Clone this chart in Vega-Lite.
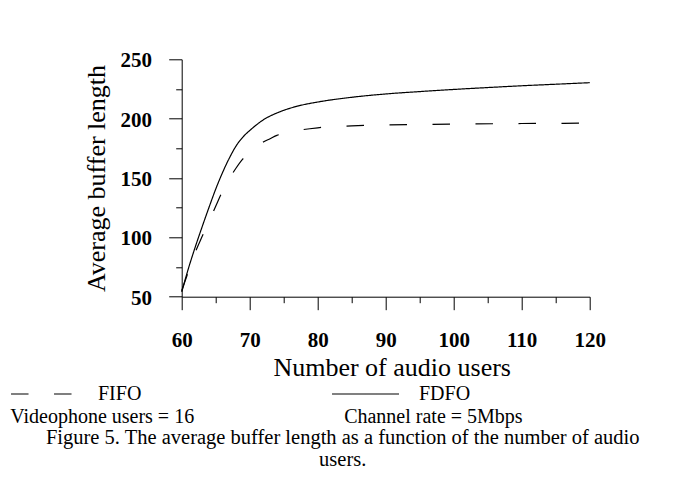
{
  "$schema": "https://vega.github.io/schema/vega-lite/v6.json",
  "width": 408,
  "height": 237.4,
  "autosize": {"type": "none"},
  "padding": {"left": 181.7, "top": 59.3, "right": 90.3, "bottom": 186.3},
  "background": "white",
  "data": {
    "values": [
      {"users": 60, "length": 54, "policy": "FDFO"},
      {"users": 61, "length": 74, "policy": "FDFO"},
      {"users": 62, "length": 92, "policy": "FDFO"},
      {"users": 63, "length": 108.8, "policy": "FDFO"},
      {"users": 64, "length": 125, "policy": "FDFO"},
      {"users": 65, "length": 140.6, "policy": "FDFO"},
      {"users": 66, "length": 154.5, "policy": "FDFO"},
      {"users": 67, "length": 166.7, "policy": "FDFO"},
      {"users": 68, "length": 177, "policy": "FDFO"},
      {"users": 69, "length": 184.5, "policy": "FDFO"},
      {"users": 70, "length": 190, "policy": "FDFO"},
      {"users": 71, "length": 194.8, "policy": "FDFO"},
      {"users": 72, "length": 199, "policy": "FDFO"},
      {"users": 73, "length": 202.2, "policy": "FDFO"},
      {"users": 74, "length": 204.8, "policy": "FDFO"},
      {"users": 75, "length": 207, "policy": "FDFO"},
      {"users": 77, "length": 210.5, "policy": "FDFO"},
      {"users": 80, "length": 214, "policy": "FDFO"},
      {"users": 85, "length": 218, "policy": "FDFO"},
      {"users": 90, "length": 220.8, "policy": "FDFO"},
      {"users": 95, "length": 222.8, "policy": "FDFO"},
      {"users": 100, "length": 224.6, "policy": "FDFO"},
      {"users": 105, "length": 226.2, "policy": "FDFO"},
      {"users": 110, "length": 227.7, "policy": "FDFO"},
      {"users": 115, "length": 229, "policy": "FDFO"},
      {"users": 120, "length": 230.3, "policy": "FDFO"},
      {"users": 60, "length": 55, "policy": "FIFO"},
      {"users": 61, "length": 71.5, "policy": "FIFO"},
      {"users": 62, "length": 87.5, "policy": "FIFO"},
      {"users": 63, "length": 100.7, "policy": "FIFO"},
      {"users": 64, "length": 113.3, "policy": "FIFO"},
      {"users": 65, "length": 126.2, "policy": "FIFO"},
      {"users": 66, "length": 138.8, "policy": "FIFO"},
      {"users": 67, "length": 149.3, "policy": "FIFO"},
      {"users": 68, "length": 158.4, "policy": "FIFO"},
      {"users": 69, "length": 166.1, "policy": "FIFO"},
      {"users": 70, "length": 171, "policy": "FIFO"},
      {"users": 71, "length": 175.7, "policy": "FIFO"},
      {"users": 72, "length": 180.3, "policy": "FIFO"},
      {"users": 73, "length": 183.1, "policy": "FIFO"},
      {"users": 74, "length": 185.9, "policy": "FIFO"},
      {"users": 75, "length": 187.5, "policy": "FIFO"},
      {"users": 77, "length": 190, "policy": "FIFO"},
      {"users": 80, "length": 192.3, "policy": "FIFO"},
      {"users": 85, "length": 193.9, "policy": "FIFO"},
      {"users": 90, "length": 194.7, "policy": "FIFO"},
      {"users": 100, "length": 195.4, "policy": "FIFO"},
      {"users": 110, "length": 195.9, "policy": "FIFO"},
      {"users": 120, "length": 196.2, "policy": "FIFO"}
    ]
  },
  "mark": {"type": "line", "interpolate": "monotone", "color": "black", "strokeWidth": 1.2, "clip": false},
  "encoding": {
    "x": {
      "field": "users",
      "type": "quantitative",
      "scale": {"domain": [60, 120], "nice": false, "zero": false},
      "axis": {
        "values": [60, 65, 70, 75, 80, 85, 90, 95, 100, 105, 110, 115, 120],
        "tickSize": {"condition": {"test": "datum.value % 10 === 0", "value": 13}, "value": 6},
        "labelExpr": "datum.value % 10 === 0 ? datum.label : ''",
        "labelPadding": 20,
        "labelFlush": false,
        "labelOverlap": false,
        "title": "Number of audio users",
        "titleX": 210,
        "titleY": 78.3,
        "titleBaseline": "alphabetic",
        "titleAlign": "center"
      }
    },
    "y": {
      "field": "length",
      "type": "quantitative",
      "scale": {"domain": [50, 250], "nice": false, "zero": false},
      "axis": {
        "values": [50, 75, 100, 125, 150, 175, 200, 225, 250],
        "tickSize": {"condition": {"test": "datum.value % 50 === 0", "value": 13}, "value": 6},
        "labelExpr": "datum.value % 50 === 0 ? datum.label : ''",
        "labelPadding": 17.3,
        "labelOffset": 1.6,
        "labelFlush": false,
        "labelOverlap": false,
        "title": "Average buffer length",
        "titleX": -77.7,
        "titleBaseline": "alphabetic",
        "titleAlign": "center",
        "titleAngle": -90
      }
    },
    "strokeDash": {
      "field": "policy",
      "type": "nominal",
      "scale": {"domain": ["FIFO", "FDFO"], "range": [[17.5, 25.5], [1, 0]]},
      "legend": {
        "orient": "none",
        "legendX": -171.5,
        "legendY": 322.7,
        "direction": "horizontal",
        "columns": 2,
        "columnPadding": 187,
        "rowPadding": 0,
        "padding": 0,
        "symbolType": "M-1,0H5",
        "symbolSize": 499,
        "symbolStrokeWidth": 1.2,
        "symbolStrokeColor": "black",
        "labelFont": "Liberation Serif",
        "labelFontSize": 20,
        "labelColor": "black",
        "labelOffset": 63.8,
        "labelLimit": 300,
        "title": "Videophone users = 16\u00a0\u00a0\u00a0\u00a0\u00a0\u00a0\u00a0\u00a0\u00a0\u00a0\u00a0\u00a0\u00a0\u00a0\u00a0\u00a0\u00a0\u00a0\u00a0\u00a0\u00a0\u00a0\u00a0\u00a0\u00a0\u00a0\u00a0\u00a0\u00a0\u00a0Channel rate = 5Mbps",
        "titleOrient": "bottom",
        "titleAnchor": "start",
        "titleAlign": "left",
        "titleFont": "Liberation Serif",
        "titleFontSize": 20,
        "titleFontWeight": "normal",
        "titleColor": "black",
        "titleLimit": 700,
        "titlePadding": 3,
        "encode": {
          "symbols": {
            "update": {
              "strokeDash": {"signal": "datum.value === 'FIFO' ? [19, 31] : [1, 0]"}
            }
          }
        }
      }
    }
  },
  "title": {
    "text": ["Figure 5. The average buffer length as a function of the number of audio", "users."],
    "orient": "bottom",
    "anchor": "middle",
    "frame": "group",
    "dx": -43,
    "offset": 1,
    "font": "Liberation Serif",
    "fontSize": 20.5,
    "fontWeight": "normal",
    "color": "black",
    "lineHeight": 22
  },
  "config": {
    "view": {"stroke": null},
    "axis": {
      "grid": false,
      "domainColor": "black",
      "domainWidth": 1,
      "tickColor": "black",
      "tickWidth": 1,
      "labelFont": "Liberation Serif",
      "labelFontWeight": "bold",
      "labelFontSize": 21,
      "labelColor": "black",
      "titleFont": "Liberation Serif",
      "titleFontWeight": "normal",
      "titleFontSize": 26,
      "titleColor": "black"
    }
  }
}
